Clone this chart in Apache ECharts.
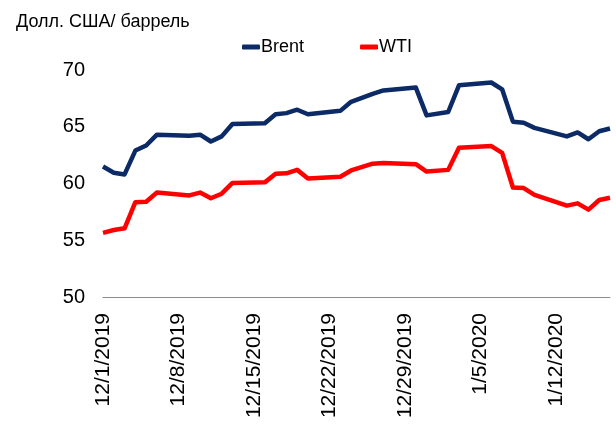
<!DOCTYPE html>
<html>
<head>
<meta charset="utf-8">
<script src="https://cdn.jsdelivr.net/npm/echarts@6/dist/echarts.min.js"></script>
<style>
html,body{margin:0;padding:0;background:#fff;}
#chart{width:616px;height:425px;}
</style>
</head>
<body>
<div id="chart"></div>
<script>
const titleText = 'Долл. США/ баррель';
const dates = [
  '12/1/2019','12/2/2019','12/3/2019','12/4/2019','12/5/2019','12/6/2019','12/7/2019',
  '12/8/2019','12/9/2019','12/10/2019','12/11/2019','12/12/2019','12/13/2019','12/14/2019',
  '12/15/2019','12/16/2019','12/17/2019','12/18/2019','12/19/2019','12/20/2019','12/21/2019',
  '12/22/2019','12/23/2019','12/24/2019','12/25/2019','12/26/2019','12/27/2019','12/28/2019',
  '12/29/2019','12/30/2019','12/31/2019','1/1/2020','1/2/2020','1/3/2020','1/4/2020',
  '1/5/2020','1/6/2020','1/7/2020','1/8/2020','1/9/2020','1/10/2020','1/11/2020',
  '1/12/2020','1/13/2020','1/14/2020','1/15/2020','1/16/2020','1/17/2020'
];
const brent = [
  61.5, 60.95, 60.8, 62.9, 63.35, 64.3, null,
  null, 64.2, 64.3, 63.7, 64.15, 65.25, null,
  null, 65.3, 66.1, 66.2, 66.5, 66.1, null,
  null, 66.4, 67.2, null, 67.9, 68.2, null,
  null, 68.45, 66.0, null, 66.3, 68.65, null,
  null, 68.9, 68.3, 65.45, 65.35, 64.9, null,
  null, 64.15, 64.5, 63.9, 64.6, 64.85
];
const wti = [
  55.65, 55.9, 56.05, 58.35, 58.4, 59.2, null,
  null, 58.95, 59.2, 58.7, 59.1, 60.05, null,
  null, 60.1, 60.85, 60.9, 61.2, 60.45, null,
  null, 60.6, 61.15, null, 61.75, 61.8, null,
  null, 61.7, 61.05, null, 61.2, 63.15, null,
  null, 63.3, 62.7, 59.65, 59.6, 59.0, null,
  null, 58.05, 58.25, 57.7, 58.55, 58.75
];
const yMin = 50, yMax = 70, yStep = 5;

const FONT = "'Liberation Sans', Arial, sans-serif";
const chart = echarts.init(document.getElementById('chart'), null, {renderer: 'canvas'});
chart.setOption({
  animation: false,
  backgroundColor: '#ffffff',
  title: {
    text: titleText,
    left: 11, top: 8,
    textStyle: {fontFamily: FONT, fontSize: 18, fontWeight: 'normal', color: '#000'}
  },
  legend: {
    left: 237, top: 33,
    itemWidth: 18, itemHeight: 5, itemGap: 56,
    icon: 'roundRect',
    textStyle: {fontFamily: FONT, fontSize: 18, color: '#000', padding: [0, 0, 0, -4]},
    data: ['Brent', 'WTI']
  },
  grid: {left: 103, right: 6, top: 70, bottom: 128},
  xAxis: {
    type: 'category',
    data: dates,
    boundaryGap: false,
    axisLine: {lineStyle: {color: '#8c8c8c', width: 1}},
    axisTick: {show: false},
    axisLabel: {
      interval: 6, rotate: 90, margin: 16,
      fontFamily: FONT, fontSize: 21, color: '#000'
    },
    splitLine: {show: false}
  },
  yAxis: {
    type: 'value',
    min: yMin, max: yMax, interval: yStep,
    axisLine: {show: false},
    axisTick: {show: false},
    splitLine: {show: false},
    axisLabel: {margin: 18, fontFamily: FONT, fontSize: 20, color: '#000'}
  },
  series: [
    {
      name: 'Brent', type: 'line', data: brent, connectNulls: true,
      showSymbol: false, symbol: 'none',
      lineStyle: {color: '#0b2a66', width: 4.5, join: 'round'},
      itemStyle: {color: '#0b2a66'}
    },
    {
      name: 'WTI', type: 'line', data: wti, connectNulls: true,
      showSymbol: false, symbol: 'none',
      lineStyle: {color: '#ff0000', width: 4.5, join: 'round'},
      itemStyle: {color: '#ff0000'}
    }
  ]
});
</script>
</body>
</html>
